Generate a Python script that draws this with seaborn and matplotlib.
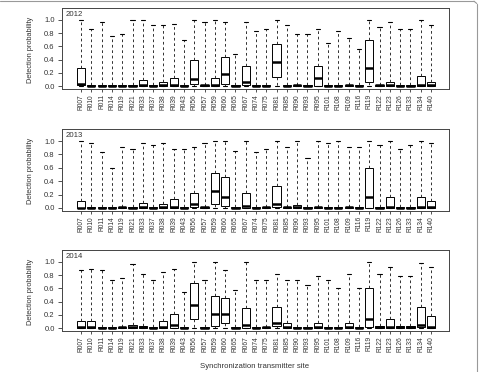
import numpy as np
import pandas as pd
import matplotlib
matplotlib.use("Agg")
import matplotlib.pyplot as plt
from matplotlib.lines import Line2D
import seaborn as sns

sites = ["R007", "R010", "R011", "R014", "R019", "R021", "R033", "R037", "R038", "R039",
         "R043", "R056", "R057", "R059", "R060", "R065", "R067", "R074", "R075", "R081",
         "R085", "R090", "R093", "R095", "R101", "R108", "R109", "R116", "R119", "R122",
         "R123", "R126", "R133", "R134", "R140"]
years = ["2012", "2013", "2014"]

low_2012 = [0.0] * 35
q1_2012 = [0.01, 0, 0, 0, 0, 0, 0, 0, 0, 0, 0, 0.03, 0, 0, 0.03, 0, 0.01, 0, 0, 0.13,
           0, 0, 0, 0, 0, 0, 0, 0, 0.06, 0, 0, 0, 0, 0, 0]
med_2012 = [0.03, 0.005, 0.005, 0.005, 0.005, 0.005, 0.01, 0.005, 0.01, 0.01, 0.005, 0.11,
            0.01, 0.01, 0.18, 0.005, 0.065, 0.005, 0.005, 0.37, 0.005, 0.01, 0.005, 0.116,
            0.005, 0.005, 0.01, 0.005, 0.28, 0.01, 0.01, 0.005, 0.005, 0.01, 0.01]
q3_2012 = [0.28, 0.01, 0.01, 0.01, 0.01, 0.01, 0.086, 0.01, 0.06, 0.116, 0.01, 0.39, 0.02,
           0.116, 0.44, 0.01, 0.31, 0.01, 0.01, 0.64, 0.01, 0.02, 0.01, 0.31, 0.01, 0.01,
           0.02, 0.01, 0.69, 0.02, 0.06, 0.01, 0.01, 0.146, 0.065]
high_2012 = [1.0, 0.86, 0.97, 0.76, 0.79, 1.0, 1.0, 0.92, 0.92, 0.94, 0.70, 1.0, 0.97, 1.0,
             0.97, 0.48, 0.97, 0.83, 0.86, 1.0, 0.92, 0.78, 0.78, 0.86, 0.65, 0.83, 0.72,
             0.56, 1.0, 0.89, 0.97, 0.86, 0.86, 1.0, 0.92]

low_2013 = [0.0] * 35
q1_2013 = [0, 0, 0, 0, 0, 0, 0, 0, 0, 0, 0, 0.02, 0, 0.06, 0.03, 0, 0, 0, 0, 0.02,
           0, 0, 0, 0, 0, 0, 0, 0, 0, 0, 0, 0, 0, 0, 0]
med_2013 = [0.005, 0.005, 0.005, 0.005, 0.01, 0.005, 0.01, 0.005, 0.01, 0.01, 0.005, 0.06,
            0.01, 0.25, 0.17, 0.005, 0.03, 0.005, 0.01, 0.06, 0.01, 0.01, 0.005, 0.01,
            0.005, 0.005, 0.01, 0.005, 0.16, 0.005, 0.01, 0.005, 0.005, 0.01, 0.01]
q3_2013 = [0.107, 0.01, 0.01, 0.01, 0.02, 0.01, 0.08, 0.01, 0.056, 0.127, 0.01, 0.22, 0.02,
           0.52, 0.47, 0.01, 0.22, 0.01, 0.02, 0.33, 0.02, 0.05, 0.01, 0.02, 0.01, 0.01,
           0.02, 0.01, 0.59, 0.01, 0.16, 0.01, 0.01, 0.16, 0.107]
high_2013 = [1.0, 0.97, 0.83, 0.60, 0.91, 0.88, 0.97, 0.94, 0.97, 0.88, 0.88, 0.91, 0.97,
             1.0, 1.0, 0.85, 1.0, 0.83, 0.88, 1.0, 0.91, 1.0, 0.75, 1.0, 0.97, 1.0, 0.91,
             0.91, 1.0, 0.94, 1.0, 0.88, 0.94, 1.0, 0.97]

low_2014 = [0.0] * 35
q1_2014 = [0, 0, 0, 0, 0, 0, 0, 0, 0, 0, 0, 0.14, 0, 0.03, 0.07, 0, 0, 0, 0, 0.03,
           0, 0, 0, 0, 0, 0, 0, 0, 0.01, 0, 0, 0, 0, 0.02, 0]
med_2014 = [0.02, 0.02, 0.005, 0.005, 0.01, 0.02, 0.01, 0.005, 0.01, 0.04, 0.005, 0.35,
            0.005, 0.21, 0.21, 0.005, 0.04, 0.005, 0.01, 0.08, 0.01, 0.005, 0.005, 0.01,
            0.005, 0.005, 0.01, 0.005, 0.14, 0.01, 0.01, 0.01, 0.01, 0.05, 0.02]
q3_2014 = [0.10, 0.10, 0.01, 0.01, 0.02, 0.04, 0.03, 0.01, 0.10, 0.21, 0.01, 0.68, 0.01,
           0.48, 0.45, 0.01, 0.30, 0.01, 0.02, 0.32, 0.07, 0.01, 0.01, 0.07, 0.01, 0.01,
           0.07, 0.01, 0.60, 0.03, 0.13, 0.03, 0.03, 0.32, 0.18]
high_2014 = [0.87, 0.89, 0.87, 0.73, 0.76, 0.97, 0.82, 0.73, 0.84, 0.89, 0.54, 1.0, 0.73,
             1.0, 0.87, 0.57, 1.0, 0.73, 0.73, 0.81, 0.73, 0.73, 0.65, 0.79, 0.73, 0.60,
             0.81, 0.60, 1.0, 0.81, 0.92, 0.79, 0.79, 0.98, 0.92]

summaries = {
    "2012": (low_2012, q1_2012, med_2012, q3_2012, high_2012),
    "2013": (low_2013, q1_2013, med_2013, q3_2013, high_2013),
    "2014": (low_2014, q1_2014, med_2014, q3_2014, high_2014),
}

sns.set_style("ticks")
plt.rcParams["font.family"] = ["Liberation Sans", "DejaVu Sans"]
TXT = "#333333"

W, H = 479, 372
fig = plt.figure(figsize=(W / 100, H / 100), dpi=100)
fig.patch.set_facecolor("white")

panels = [(8, 89), (129, 211), (250, 331)]
left_px, right_px = 62, 449

for (top, bot), yr in zip(panels, years):
    ax = fig.add_axes([left_px / W, 1 - bot / H, (right_px - left_px) / W, (bot - top) / H])
    lo, q1, md, q3, hi = summaries[yr]
    rows = []
    for i, s in enumerate(sites):
        for v in (lo[i], q1[i], md[i], q3[i], hi[i]):
            rows.append((s, v))
    df = pd.DataFrame(rows, columns=["site", "value"])
    sns.boxplot(data=df, x="site", y="value", order=sites, ax=ax,
                whis=(0, 100), showfliers=False, width=0.8,
                color="white", linecolor="black", linewidth=0.7,
                medianprops={"linewidth": 1.8, "color": "black"},
                whiskerprops={"linestyle": (0, (3, 3)), "linewidth": 0.65,
                              "color": "#222222"},
                capprops={"linewidth": 0.8})
    ax.set_xlim(-1.85, 35.75)
    ax.set_ylim(-0.045, 1.18)
    ax.set_yticks([0, 0.2, 0.4, 0.6, 0.8, 1.0])
    ax.set_yticklabels(["0.0", "0.2", "0.4", "0.6", "0.8", "1.0"])
    ax.tick_params(axis="y", labelsize=5.5, length=2.8, width=0.6, pad=2.5, colors=TXT,
                   labelcolor=TXT)
    ax.tick_params(axis="x", labelsize=4.8, length=2.2, width=0.6, pad=1.5,
                   labelrotation=90, colors=TXT, labelcolor=TXT)
    ax.set_xlabel("")
    ax.set_ylabel("")
    for sp in ax.spines.values():
        sp.set_visible(True)
        sp.set_linewidth(0.7)
        sp.set_color("#444444")
    ax.text(4 / (right_px - left_px), 1 - 3 / (bot - top), yr, transform=ax.transAxes,
            ha="left", va="top", fontsize=5.6, color=TXT)
    fig.text(30 / W, 1 - ((top + bot) / 2 + 1) / H, "Detection probability", rotation=90,
             ha="center", va="center", fontsize=5.3, color=TXT)

fig.text(255 / W, 1 - 367 / H, "Synchronization transmitter site", ha="center",
         va="center", fontsize=5.6, color=TXT)

# outer frame (top and right edges)
fig.add_artist(Line2D([0, 474 / W], [1 - 1.2 / H, 1 - 1.2 / H], transform=fig.transFigure,
                      color="#999999", linewidth=0.8))
fig.add_artist(Line2D([476.8 / W, 476.8 / W], [1 - 3.5 / H, 0], transform=fig.transFigure,
                      color="#999999", linewidth=0.8))
fig.add_artist(Line2D([474 / W, 476.8 / W], [1 - 1.2 / H, 1 - 3.5 / H],
                      transform=fig.transFigure, color="#999999", linewidth=0.8))

fig.savefig("out.png", dpi=100)
